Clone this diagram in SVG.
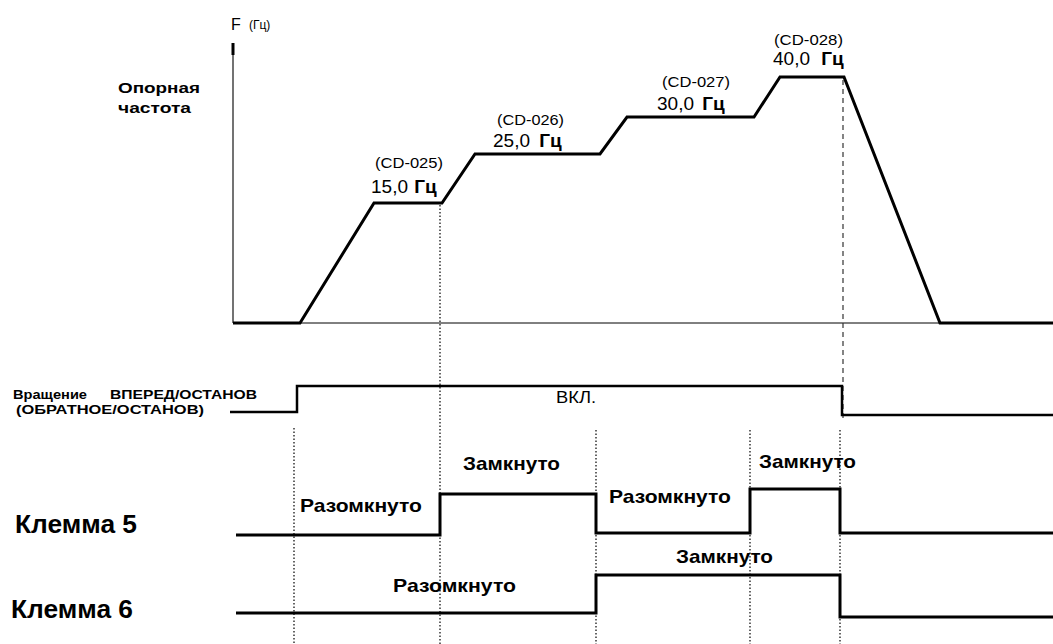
<svg xmlns="http://www.w3.org/2000/svg" width="1053" height="644" viewBox="0 0 1053 644">
<style>
text{font-family:"Liberation Sans",Arial,sans-serif;fill:#000}
.b{font-weight:bold}
.sig{fill:none;stroke:#000;stroke-width:3;stroke-linejoin:miter}
.dot{stroke:#000;stroke-width:1.2;stroke-dasharray:1.5 2;fill:none}
.dash{stroke:#333;stroke-width:1.2;stroke-dasharray:5 4;fill:none}
.cd{font-size:15px}
.fv{font-size:19px}
.st{font-size:19px;font-weight:bold}
.kl{font-size:25px;font-weight:bold}
.lb{font-size:13.5px;font-weight:bold}
</style>
<rect width="1053" height="644" fill="#fff"/>
<g id="axes">
<line x1="233" y1="45" x2="233" y2="323" stroke="#444" stroke-width="1.5"/>
<line x1="233" y1="43" x2="233" y2="55" stroke="#000" stroke-width="3"/>
<line x1="233" y1="323" x2="1053" y2="323" stroke="#000" stroke-width="1"/>
<text x="231" y="30" style="font-size:16px">F</text>
<text x="249" y="29" style="font-size:12px">(Гц)</text>
<text class="b" x="118" y="93" style="font-size:15.5px" textLength="82" lengthAdjust="spacingAndGlyphs">Опорная</text>
<text class="b" x="118" y="113" style="font-size:15.5px" textLength="73" lengthAdjust="spacingAndGlyphs">частота</text>
</g>
<g id="connectors">
<line class="dot" x1="294" y1="428" x2="294" y2="644"/>
<line class="dot" x1="440" y1="205" x2="440" y2="644"/>
<line class="dot" x1="596" y1="430" x2="596" y2="644"/>
<line class="dot" x1="750" y1="430" x2="750" y2="644"/>
<line class="dot" x1="840" y1="430" x2="840" y2="644"/>
<line class="dash" x1="843" y1="80" x2="843" y2="420"/>
</g>
<g id="frequency">
<path class="sig" d="M233,323 H300 L374,203 H442 L475,154 H600 L627,117 H754 L780,77 H844 L940,323 H1053"/>
<text class="cd" x="375" y="168" textLength="68" lengthAdjust="spacingAndGlyphs">(CD-025)</text>
<text class="fv" x="371" y="193">15,0 <tspan class="b" dx="1">Гц</tspan></text>
<text class="cd" x="497" y="125" textLength="67" lengthAdjust="spacingAndGlyphs">(CD-026)</text>
<text class="fv" x="493" y="147">25,0 <tspan class="b" dx="4">Гц</tspan></text>
<text class="cd" x="662" y="87" textLength="68" lengthAdjust="spacingAndGlyphs">(CD-027)</text>
<text class="fv" x="657" y="110">30,0 <tspan class="b" dx="3">Гц</tspan></text>
<text class="cd" x="774" y="45" textLength="69" lengthAdjust="spacingAndGlyphs">(CD-028)</text>
<text class="fv" x="773" y="65">40,0 <tspan class="b" dx="6">Гц</tspan></text>
</g>
<g id="rotation">
<path class="sig" style="stroke-width:2.5" d="M230,412 H297 V386 H842 V415 H1053"/>
<text class="lb" x="13" y="399" textLength="74" lengthAdjust="spacingAndGlyphs">Вращение</text>
<text class="lb" x="110" y="399" textLength="147" lengthAdjust="spacingAndGlyphs">ВПЕРЕД/ОСТАНОВ</text>
<text class="lb" x="16" y="414" textLength="188" lengthAdjust="spacingAndGlyphs">(ОБРАТНОЕ/ОСТАНОВ)</text>
<text x="556" y="403" style="font-size:16px" textLength="40" lengthAdjust="spacingAndGlyphs">ВКЛ.</text>
</g>
<g id="terminal5">
<path class="sig" d="M236,535 H440 V494 H596 V533 H750 V489 H840 V533 H1053"/>
<text class="kl" x="15" y="533" textLength="122" lengthAdjust="spacingAndGlyphs">Клемма 5</text>
<text class="st" x="300" y="512" textLength="122" lengthAdjust="spacingAndGlyphs">Разомкнуто</text>
<text class="st" x="463" y="470" textLength="97" lengthAdjust="spacingAndGlyphs">Замкнуто</text>
<text class="st" x="609" y="503" textLength="122" lengthAdjust="spacingAndGlyphs">Разомкнуто</text>
<text class="st" x="759" y="468" textLength="97" lengthAdjust="spacingAndGlyphs">Замкнуто</text>
</g>
<g id="terminal6">
<path class="sig" d="M236,613 H596 V575 H840 V617 H1053"/>
<text class="kl" x="11" y="618" textLength="122" lengthAdjust="spacingAndGlyphs">Клемма 6</text>
<text class="st" x="393" y="592" textLength="123" lengthAdjust="spacingAndGlyphs">Разомкнуто</text>
<text class="st" x="676" y="563" textLength="97" lengthAdjust="spacingAndGlyphs">Замкнуто</text>
</g>
</svg>
